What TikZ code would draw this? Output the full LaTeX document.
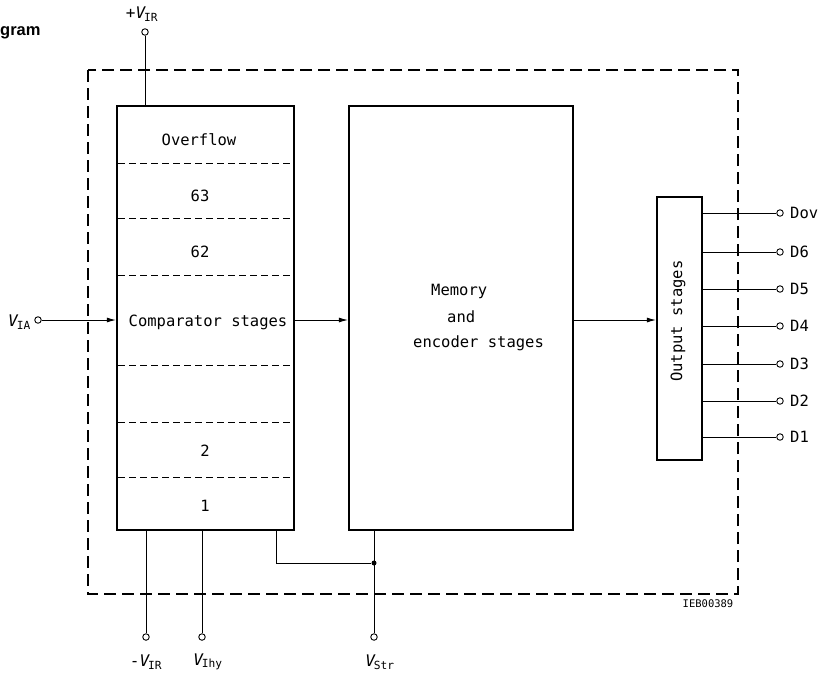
\documentclass[tikz,border=0pt]{standalone}
\usepackage{fontspec}
\setmainfont{DejaVu Sans Mono}
\newfontfamily\titlefont{Liberation Sans}
\usetikzlibrary{arrows.meta}
\begin{document}
\begin{tikzpicture}[x=1pt,y=-1pt,
  blk/.style={draw,line width=2.2pt},
  thin/.style={line width=0.9pt},
  rowline/.style={line width=1pt,dash pattern=on 7pt off 4pt},
  outer/.style={line width=2pt,dash pattern=on 12pt off 6pt},
  term/.style={circle,draw,line width=0.9pt,fill=white,inner sep=0pt,minimum size=6.5pt},
  lbl/.style={font=\fontsize{15.5}{18}\selectfont,inner sep=1pt},
  plbl/.style={font=\fontsize{16}{18}\selectfont,inner sep=1pt},
  arr/.style={thin,-{Latex[length=9pt,width=5pt]}},
  dotn/.style={circle,fill=black,inner sep=0pt,minimum size=5pt}]
\useasboundingbox (0,0) rectangle (829,673);
\node[anchor=west,inner sep=0pt,font=\titlefont\bfseries\fontsize{16.5}{18}\selectfont] (title) at (0,33) {gram};
% outer dashed boundary
\draw[outer] (88,70) rectangle (738,594);
% comparator block
\node[blk,minimum width=177pt,minimum height=424pt,inner sep=0pt] (cmp) at (205.5,318) {};
\foreach \yy in {163,218,275,365,422,477} \draw[rowline] (118,\yy) -- (293,\yy);
\node[lbl] (ovf) at (199,140) {Overflow};
\node[lbl] (r63) at (200,196) {63};
\node[lbl] (r62) at (200,252) {62};
\node[lbl,fill=white] (cst) at (208,322) {Comparator stages};
\node[lbl] (r2) at (205,451) {2};
\node[lbl] (r1) at (205,506) {1};
% memory block
\node[blk,minimum width=224pt,minimum height=424pt,inner sep=0pt] (mem) at (461,318) {};
\node[lbl,anchor=west] (memt1) at (430,291) {Memory};
\node[lbl,anchor=west] (memt2) at (446,317) {and};
\node[lbl,anchor=west] (memt3) at (412,343) {encoder stages};
% output block
\node[blk,minimum width=45pt,minimum height=263pt,inner sep=0pt] (outb) at (679.5,328.5) {};
\node[lbl,rotate=90] (outt) at (678,321) {Output stages};
% arrows between blocks
\coordinate (cR) at (cmp.east |- 0,320);
\coordinate (mL) at (mem.west |- 0,320);
\coordinate (mR) at (mem.east |- 0,320);
\coordinate (oL) at (outb.west |- 0,320);
\draw[arr] (cR) -- (mL);
\draw[arr] (mR) -- (oL);
% input V_IA
\node[term] (tia) at (38,320) {};
\node[plbl,anchor=east] (lia) at (32,322) {\itshape V\kern-1pt\textsubscript{\upshape IA}};
\coordinate (cL) at (cmp.west |- 0,320);
\draw[arr] (tia) -- (cL);
% +V_IR
\node[term] (tpir) at (145,32) {};
\node[plbl] (lpir) at (142,14) {\itshape +V\kern-1pt\textsubscript{\upshape IR}};
\coordinate (cT) at (cmp.north -| 145,0);
\draw[thin] (tpir) -- (cT);
% bottom terminals
\node[term] (tmir) at (146,637) {};
\node[term] (tihy) at (202,637) {};
\node[term] (tstr) at (374,637) {};
\node[plbl] (lmir) at (146,662) {-\itshape V\kern-1pt\textsubscript{\upshape IR}};
\node[plbl] (lihy) at (208,662) {\itshape V\kern-1pt\textsubscript{\upshape Ihy}};
\node[plbl] (lstr) at (380,662) {\itshape V\kern-1pt\textsubscript{\upshape Str}};
\coordinate (cB1) at (cmp.south -| 146,0);
\coordinate (cB2) at (cmp.south -| 202,0);
\coordinate (cB3) at (cmp.south -| 276,0);
\coordinate (mB) at (mem.south -| 374,0);
\coordinate (bend) at (276,563);
\node[dotn] (jn) at (374,563) {};
\draw[thin] (cB1) -- (tmir);
\draw[thin] (cB2) -- (tihy);
\draw[thin] (cB3) -- (bend) -- (jn);
\draw[thin] (mB) -- (tstr);
% outputs
\foreach \yy/\nm/\tx in {213/dov/Dov,252/d6/D6,289/d5/D5,326/d4/D4,364/d3/D3,401/d2/D2,437/d1/D1}{
  \coordinate (s\nm) at (outb.east |- 0,\yy);
  \node[term] (t\nm) at (780,\yy) {};
  \node[lbl,anchor=west] (l\nm) at (789,\yy) {\tx};
  \draw[thin] (s\nm) -- (t\nm);
}
\node[font=\fontsize{10.5}{12}\selectfont] (code) at (708,604) {IEB00389};
\end{tikzpicture}
\end{document}
